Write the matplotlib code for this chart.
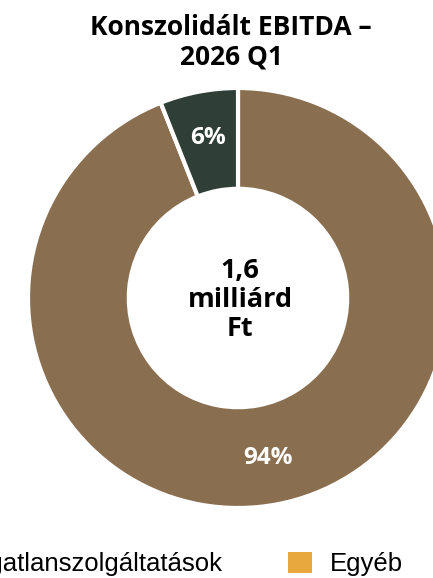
import matplotlib.pyplot as plt
from matplotlib.patches import Patch

# data
segments = ["Ingatlanszolgáltatások", "Egyéb szegmens"]
shares = [94, 6]
colors = ["#8a6e50", "#2f3f38"]
legend_labels = ["Ingatlanszolgáltatások", "Egyéb"]
legend_colors = ["#8a6e50", "#e8a83e"]
title = "Konszolidált EBITDA –\n2026 Q1"
center_label = "1,6\nmilliárd\nFt"

W, H = 433, 578
fig = plt.figure(figsize=(W / 100, H / 100), dpi=100)

# pie axes: centre (238, 298) px, radius 210 px; the right side runs off the figure
cx, cy, r = 238, 298, 210
ax = fig.add_axes([(cx - r) / W, (H - cy - r) / H, 2 * r / W, 2 * r / H])

wedges, texts, autotexts = ax.pie(
    shares, colors=colors, startangle=90, counterclock=False,
    autopct=lambda p: f"{p:.0f}%", pctdistance=0.775,
    wedgeprops=dict(width=0.48, edgecolor="white", linewidth=3),
    textprops=dict(color="white", fontsize=17.5, fontweight="bold",
                   family=["Open Sans", "DejaVu Sans"]))
ax.set_xlim(-1, 1)
ax.set_ylim(-1, 1)
ax.set_aspect("equal")
ax.axis("off")

ax.text(0.01, -0.01, center_label, ha="center", va="center", fontsize=19.5,
        fontweight="bold", family=["Open Sans", "DejaVu Sans"], linespacing=1.15)

fig.text(231 / W, 1 - 42 / H, title, ha="center", va="center", fontsize=19,
         fontweight="bold", family=["Open Sans", "DejaVu Sans"], linespacing=1.1)

handles = [Patch(facecolor=c, edgecolor="none") for c in legend_colors]
fig.legend(handles, legend_labels, loc="center right", ncol=2, frameon=False,
           bbox_to_anchor=(403 / W, 1 - 564 / H), borderpad=0, borderaxespad=0,
           prop=dict(family="Liberation Sans", size=18.5),
           handlelength=0.93, handleheight=0.93, handletextpad=0.70,
           columnspacing=2.53)

fig.savefig("out.png", dpi=100, facecolor="white")
